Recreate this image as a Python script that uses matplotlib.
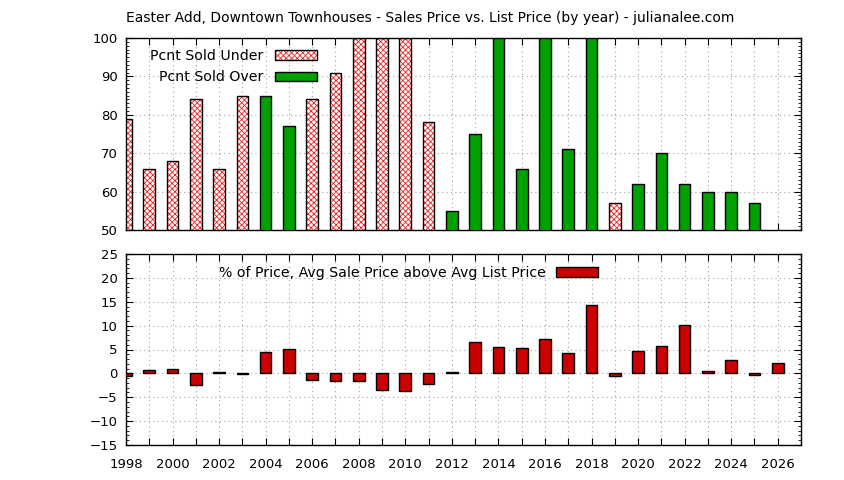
"""Sales price vs list price by year, two stacked panels."""

import matplotlib

matplotlib.use("Agg")
import matplotlib.pyplot as plt
from matplotlib.legend_handler import HandlerTuple
from matplotlib.patches import Patch
from matplotlib.ticker import MultipleLocator, FuncFormatter

years = list(range(1998, 2027))

# share of sales under / over list price (the lower one sits below the 50 floor)
pcnt_under = [79, 66, 68, 84, 66, 85, 15, 23, 84, 91, 100, 100, 100, 78, 45,
              25, 0, 34, 0, 29, 0, 57, 38, 30, 38, 40, 40, 43, 0]
pcnt_over = [21, 34, 32, 16, 34, 15, 85, 77, 16, 9, 0, 0, 0, 22, 55,
             75, 100, 66, 100, 71, 100, 43, 62, 70, 62, 60, 60, 57, 0]

# avg sale price above avg list price, in percent
pct_above = [-0.6, 0.8, 1.0, -2.5, 0.2, -0.2, 4.4, 5.2, -1.3, -1.7, -1.5, -3.4,
             -3.6, -2.3, 0.2, 6.5, 5.6, 5.4, 7.3, 4.2, 14.4, -0.6, 4.6, 5.8,
             10.2, 0.6, 2.9, -0.4, 2.1]

title = ("Easter Add, Downtown Townhouses - Sales Price vs. List Price "
         "(by year) - julianalee.com")

GREEN = "#00a000"
RED = "#cc0000"
HATCH_RED = "#ee2222"
GRID = dict(color="#a0a0a0", linestyle=(0, (1, 3)), linewidth=0.8)
FS = 9.5
LFS = 10.2

plt.rcParams["font.family"] = "DejaVu Sans"
plt.rcParams["font.size"] = FS
plt.rcParams["hatch.linewidth"] = 0.6

fig = plt.figure(figsize=(8.44, 4.80), dpi=100)
ax1 = fig.add_axes([126 / 844, 1 - 230 / 480, 675 / 844, 192 / 480])
ax2 = fig.add_axes([126 / 844, 1 - 445 / 480, 675 / 844, 191 / 480])


def style_axis(ax, ymajor, yminor):
    ax.set_xlim(1998, 2027)
    ax.xaxis.set_major_locator(MultipleLocator(1))
    ax.yaxis.set_major_locator(MultipleLocator(ymajor))
    ax.yaxis.set_minor_locator(MultipleLocator(yminor))
    ax.tick_params(which="both", direction="in", top=True, right=True,
                   labelsize=FS, colors="black")
    ax.tick_params(axis="y", pad=6)
    ax.tick_params(axis="x", pad=9)
    ax.tick_params(which="major", length=5, width=0.8)
    ax.tick_params(which="minor", length=2.5, width=0.6)
    ax.grid(True, which="major", **GRID)
    ax.set_axisbelow(True)
    for sp in ax.spines.values():
        sp.set_linewidth(1.0)


# top panel: hatched under-list bars, solid green over-list bars
ax1.bar(years, pcnt_under, width=0.5, color="white", edgecolor=HATCH_RED,
        hatch="xxxxxx", linewidth=0, zorder=2)
ax1.bar(years, pcnt_under, width=0.5, fill=False, edgecolor="black",
        linewidth=1.0, zorder=3)
ax1.bar(years, pcnt_over, width=0.5, color=GREEN, edgecolor="black",
        linewidth=1.0, zorder=3)
ax1.set_ylim(50, 100)
style_axis(ax1, 10, 1)
ax1.tick_params(axis="x", labelbottom=False)

h_under = (Patch(facecolor="white", edgecolor=HATCH_RED, hatch="xxxxxx",
                 linewidth=0),
           Patch(fill=False, edgecolor="black", linewidth=1.0))
h_over = Patch(facecolor=GREEN, edgecolor="black", linewidth=1.0)
leg1 = ax1.legend([h_under, h_over], ["Pcnt Sold Under", "Pcnt Sold Over"],
                  handler_map={tuple: HandlerTuple(ndivide=1)},
                  loc="upper left", bbox_to_anchor=(0.02, 1.0), frameon=False,
                  markerfirst=False, fontsize=LFS, handlelength=3.0,
                  handleheight=0.7, labelspacing=0.55, handletextpad=0.8,
                  borderpad=0.25)
for t in leg1.get_texts():
    t.set_ha("right")
    t.set_position((0, 0))

# bottom panel: price premium
ax2.bar(years, pct_above, width=0.5, color=RED, edgecolor="black",
        linewidth=1.0, zorder=3)
ax2.set_ylim(-15, 25)
style_axis(ax2, 5, 1)
ax2.xaxis.set_major_formatter(
    FuncFormatter(lambda v, _: f"{int(v)}" if int(v) % 2 == 0 else ""))
leg2 = ax2.legend([Patch(facecolor=RED, edgecolor="black", linewidth=1.0)],
                  ["% of Price, Avg Sale Price above Avg List Price"],
                  loc="upper left", bbox_to_anchor=(0.12, 1.0), frameon=False,
                  markerfirst=False, fontsize=LFS, handlelength=3.0,
                  handleheight=0.75, handletextpad=0.7, borderpad=0.35)

fig.text(0.51, 1 - 18 / 480, title, ha="center", va="center", fontsize=10)

fig.savefig("out.png", dpi=100)
